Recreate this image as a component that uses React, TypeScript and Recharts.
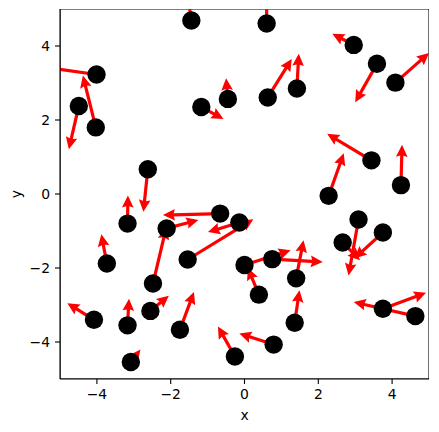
import { ScatterChart, Scatter, XAxis, YAxis, ReferenceLine, ReferenceArea, Label } from "recharts";

// dot positions
const pointX = [-1.44, 0.6, -4.01, -4.49, -4.03, -1.17, -0.45, -2.62, 2.96, 3.59, 4.09, 0.63, 1.42, 3.44, 4.24, 2.28, -3.17, -3.73, -2.11, -0.66, -0.14, -1.54, 0.0, 0.75, 1.4, 0.39, 3.09, 3.75, 2.66, 3.75, 4.63, -4.08, -3.17, -2.55, -1.75, -3.08, -2.48, -0.26, 0.79, 1.36];
const pointY = [4.69, 4.61, 3.23, 2.38, 1.8, 2.35, 2.57, 0.67, 4.03, 3.52, 3.01, 2.61, 2.85, 0.91, 0.24, -0.05, -0.8, -1.88, -0.93, -0.53, -0.77, -1.77, -1.92, -1.76, -2.28, -2.72, -0.69, -1.04, -1.31, -3.1, -3.3, -3.4, -3.55, -3.16, -3.67, -4.54, -2.42, -4.39, -4.07, -3.48];
// arrow components
const arrowU = [-0.11, 0.0, -1.39, -0.27, -0.35, 0.6, -0.05, -0.12, -0.58, -0.59, 0.91, 0.65, 0.05, -1.2, 0.03, 0.41, 0.01, -0.15, 0.86, -1.55, -0.85, 1.78, 1.25, 1.37, 0.2, -0.3, -0.27, -0.77, 0.47, 1.17, -1.67, -0.72, 0.04, 0.5, 0.38, 0.26, 0.36, -0.46, -0.93, 0.13];
const arrowV = [0.76, 0.8, 0.19, -1.17, 1.4, -0.32, 0.56, -1.15, 0.3, -1.04, 0.8, 1.04, 0.94, 0.72, 1.09, 1.15, 0.76, 0.79, 0.23, -0.04, -0.26, 1.09, 0.4, -0.08, 1.03, 0.72, -1.51, -0.7, -0.48, 0.43, 0.38, 0.45, 0.72, 0.41, 1.02, 0.34, 1.52, 0.81, 0.3, 0.88];
const ticks = [-4, -2, 0, 2, 4];

const points = pointX.map((x, i) => ({ x, y: pointY[i] }));
const arrows = pointX.map((x, i) => [
  { x, y: pointY[i] },
  { x: x + arrowU[i], y: pointY[i] + arrowV[i] },
]);

const fmt = (v: number) => (v < 0 ? `\u2212${Math.abs(v)}` : String(v));
const font = { fontSize: 13.9, fill: "#000", fontFamily: "DejaVu Sans" };

const SHAFT = 3.2;
const HEAD_W = 5.8;
const HEAD_L = 12;
const HEAD_AL = 10.8;

const Arrow = (props: any) => {
  const { x1, y1, x2, y2, clipPath } = props;
  const dx = x2 - x1;
  const dy = y2 - y1;
  const len = Math.hypot(dx, dy);
  if (!len) return null;
  const k = Math.min(1, len / HEAD_L);
  const hw = HEAD_W * k, hl = HEAD_L * k, hal = HEAD_AL * k, w = (SHAFT / 2) * Math.max(k, 0.6);
  const ux = dx / len, uy = dy / len;
  const nx = -uy, ny = ux;
  const pt = (a: number, b: number) => `${x1 + ux * a + nx * b},${y1 + uy * a + ny * b}`;
  const pts = [
    pt(0, -w), pt(len - hal, -w), pt(len - hl, -hw), pt(len, 0),
    pt(len - hl, hw), pt(len - hal, w), pt(0, w),
  ].join(" ");
  return <polygon points={pts} fill="#ff0000" clipPath={clipPath} />;
};

const Dot = (props: any) => <circle cx={props.cx} cy={props.cy} r={9.2} fill="#000" />;

export default function App() {
  return (
    <ScatterChart width={431} height={424} margin={{ top: 1, right: 10, bottom: 0, left: 0 }}>
      <ReferenceArea x1={-5} x2={5} y1={-5} y2={5} fill="none" stroke="#000" strokeWidth={1.1} ifOverflow="hidden" />
      <XAxis
        type="number"
        dataKey="x"
        domain={[-5, 5]}
        ticks={ticks}
        allowDataOverflow
        tickFormatter={fmt}
        tick={font}
        tickSize={5}
        tickMargin={5}
        height={53}
        axisLine={{ stroke: "#000", strokeWidth: 1.1 }}
        tickLine={{ stroke: "#000", strokeWidth: 1.1 }}
      >
        <Label
          content={({ viewBox }: any) => (
            <text x={viewBox.x + viewBox.width / 2} y={viewBox.y + 40.5} textAnchor="middle" {...font}>x</text>
          )}
        />
      </XAxis>
      <YAxis
        type="number"
        dataKey="y"
        domain={[-5, 5]}
        ticks={ticks}
        allowDataOverflow
        tickFormatter={fmt}
        tick={font}
        tickSize={5}
        tickMargin={5}
        width={52}
        axisLine={{ stroke: "#000", strokeWidth: 1.1 }}
        tickLine={{ stroke: "#000", strokeWidth: 1.1 }}
      >
        <Label
          content={({ viewBox }: any) => {
            const cx = 12.5;
            const cy = viewBox.y + viewBox.height / 2;
            return (
              <text x={cx} y={cy} textAnchor="middle" transform={`rotate(-90, ${cx}, ${cy})`} {...font}>y</text>
            );
          }}
        />
      </YAxis>
      {arrows.map((seg, i) => (
        <ReferenceLine key={i} segment={seg} ifOverflow="hidden" shape={Arrow} />
      ))}
      <Scatter data={points} shape={Dot} isAnimationActive={false} />
    </ScatterChart>
  );
}
